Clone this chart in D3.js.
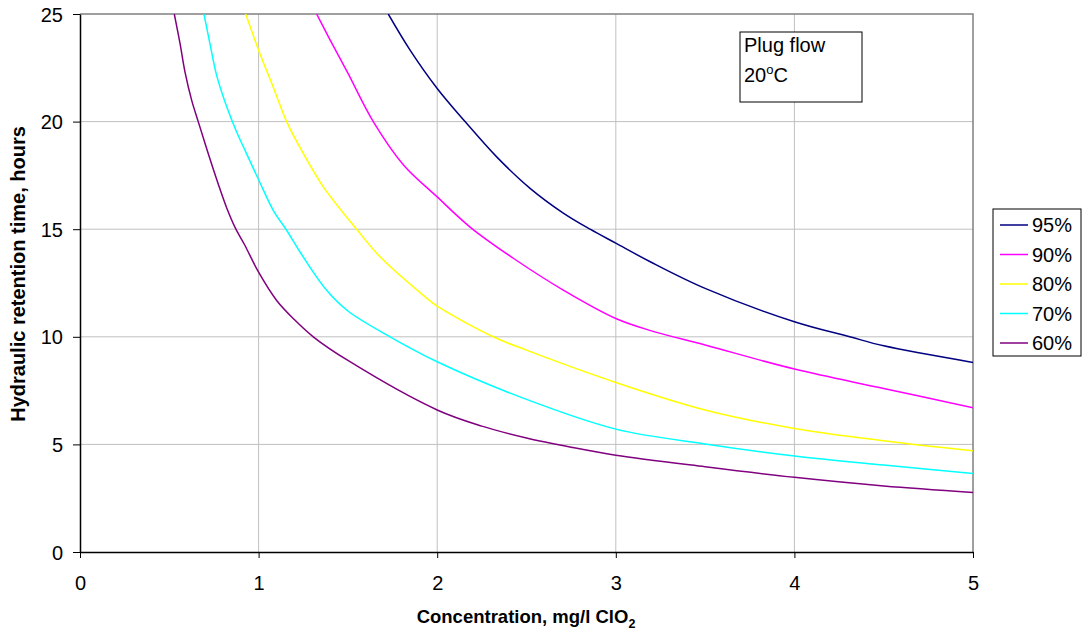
<!DOCTYPE html>
<html>
<head>
<meta charset="utf-8">
<script src="https://cdn.jsdelivr.net/npm/d3@7"></script>
<style>
  body { margin: 0; background: #fff; }
  text { font-family: "Liberation Sans", Arial, sans-serif; }
</style>
</head>
<body>
<svg width="1082" height="634"></svg>
<script>
// [concentration, hours]
const s95 = [[1.726,25],[1.85,23.3],[2,21.54],[2.156,20],[2.333,18.36],[2.52,16.9],[2.706,15.75],[2.856,15.0],[3,14.35],[3.19,13.5],[3.5,12.25],[4,10.7],[4.31,10.0],[4.5,9.58],[5,8.81]];
const s90 = [[1.325,25],[1.4,23.8],[1.5,22.25],[1.642,20],[1.81,18.0],[2,16.5],[2.184,15.1],[2.426,13.65],[2.706,12.17],[3,10.85],[3.19,10.3],[3.5,9.62],[4,8.5],[4.5,7.6],[5,6.7]];
const s80 = [[0.928,25],[1,23.32],[1.082,21.6],[1.157,20],[1.25,18.52],[1.362,16.97],[1.549,15],[1.68,13.72],[1.941,11.8],[2,11.42],[2.314,10],[2.5,9.38],[3,7.88],[3.5,6.6],[4,5.74],[4.5,5.17],[5,4.7]];
const s70 = [[0.694,25],[0.728,23.6],[0.765,22.15],[0.821,20.7],[0.873,19.6],[0.933,18.5],[1,17.3],[1.082,15.88],[1.157,14.95],[1.232,13.94],[1.381,12.16],[1.5,11.2],[1.736,10],[2,8.84],[2.5,7.09],[3,5.71],[3.5,5.02],[4,4.46],[4.5,4.04],[5,3.65]];
const s60 = [[0.528,25],[0.56,23.63],[0.588,22.3],[0.625,21.0],[0.662,20],[0.709,18.75],[0.774,17.1],[0.821,16.0],[0.873,15],[0.92,14.3],[1,13.0],[1.1,11.7],[1.2,10.8],[1.306,10],[1.5,8.9],[2,6.6],[2.25,5.85],[2.5,5.3],[2.75,4.87],[3,4.5],[3.5,3.96],[4,3.47],[4.5,3.07],[5,2.77]];

const seriesNames = ["95%", "90%", "80%", "70%", "60%"];
const seriesColors = ["#000080", "#ff00ff", "#ffff00", "#00ffff", "#800080"];
const seriesData = [s95, s90, s80, s70, s60];
const xTicks = [0, 1, 2, 3, 4, 5];
const yTicks = [0, 5, 10, 15, 20, 25];

const svg = d3.select("svg");
const pl = 80, pr = 973, pt = 14, pb = 552;

const x = d3.scaleLinear().domain([0, 5]).range([pl, pr]);
const y = d3.scaleLinear().domain([0, 25]).range([pb, pt]);

// grid
svg.append("g").selectAll("line").data(xTicks.slice(1, -1)).enter().append("line")
  .attr("x1", d => x(d)).attr("x2", d => x(d)).attr("y1", pt).attr("y2", pb)
  .attr("stroke", "#c0c0c0");
svg.append("g").selectAll("line").data(yTicks.slice(1, -1)).enter().append("line")
  .attr("x1", pl).attr("x2", pr).attr("y1", d => y(d)).attr("y2", d => y(d))
  .attr("stroke", "#c0c0c0");

// plot border (top/right)
svg.append("path")
  .attr("d", `M${pl},${pt}H${pr}V${pb}`)
  .attr("fill", "none").attr("stroke", "#808080").attr("stroke-width", 1.5);

// curves
svg.append("clipPath").attr("id", "clip").append("rect")
  .attr("x", pl).attr("y", pt).attr("width", pr - pl).attr("height", pb - pt);

const line = d3.line().x(d => x(d[0])).y(d => y(d[1])).curve(d3.curveCatmullRom.alpha(0.5));
svg.append("g").attr("clip-path", "url(#clip)")
  .selectAll("path").data(seriesData).enter().append("path")
  .attr("d", line)
  .attr("fill", "none")
  .attr("stroke", (d, i) => seriesColors[i])
  .attr("stroke-width", 1.5);

// axes
const xAxis = svg.append("g").attr("transform", `translate(0,${pb})`)
  .call(d3.axisBottom(x).tickValues(xTicks).tickFormat(d3.format("d")).tickSize(6).tickSizeOuter(0));
const yAxis = svg.append("g").attr("transform", `translate(${pl},0)`)
  .call(d3.axisLeft(y).tickValues(yTicks).tickFormat(d3.format("d")).tickSize(7).tickSizeOuter(0));
[xAxis, yAxis].forEach(a => {
  a.select(".domain").attr("stroke", "#000").attr("stroke-width", 1.5);
  a.selectAll(".tick line").attr("stroke", "#000");
  a.selectAll("text").attr("font-size", 20).attr("font-family", "Liberation Sans, Arial, sans-serif").attr("fill", "#000");
});
xAxis.selectAll("text").attr("dy", null).attr("y", 38);
yAxis.selectAll("text").attr("x", -17).attr("dy", "0.35em");

// axis titles
const xt = svg.append("text").attr("x", 526).attr("y", 623)
  .attr("text-anchor", "middle").attr("font-size", 18.5).attr("font-weight", "bold");
xt.append("tspan").text("Concentration, mg/l ClO");
xt.append("tspan").attr("dy", 5).attr("font-size", 12.5).text("2");

svg.append("text")
  .attr("transform", "translate(24.5,274) rotate(-90)")
  .attr("text-anchor", "middle").attr("font-size", 20).attr("font-weight", "bold")
  .text("Hydraulic retention time, hours");

// annotation box
svg.append("rect").attr("x", 740).attr("y", 32).attr("width", 122).attr("height", 70)
  .attr("fill", "#fff").attr("stroke", "#000");
svg.append("text").attr("x", 744).attr("y", 52).attr("font-size", 20).text("Plug flow");
const t2 = svg.append("text").attr("x", 744).attr("y", 82).attr("font-size", 20);
t2.append("tspan").text("20");
t2.append("tspan").attr("dy", -8).attr("font-size", 13).text("o");
t2.append("tspan").attr("dy", 8).text("C");

// legend
svg.append("rect").attr("x", 993).attr("y", 209).attr("width", 88).attr("height", 147)
  .attr("fill", "#fff").attr("stroke", "#000");
const lg = svg.append("g").selectAll("g").data(seriesNames).enter().append("g")
  .attr("transform", (d, i) => `translate(1000,${225 + i * 29.5})`);
lg.append("line").attr("x1", 0).attr("x2", 28)
  .attr("stroke", (d, i) => seriesColors[i]).attr("stroke-width", 1.5);
lg.append("text").attr("x", 32).attr("dy", "0.35em").attr("font-size", 20).text(d => d);
</script>
</body>
</html>
